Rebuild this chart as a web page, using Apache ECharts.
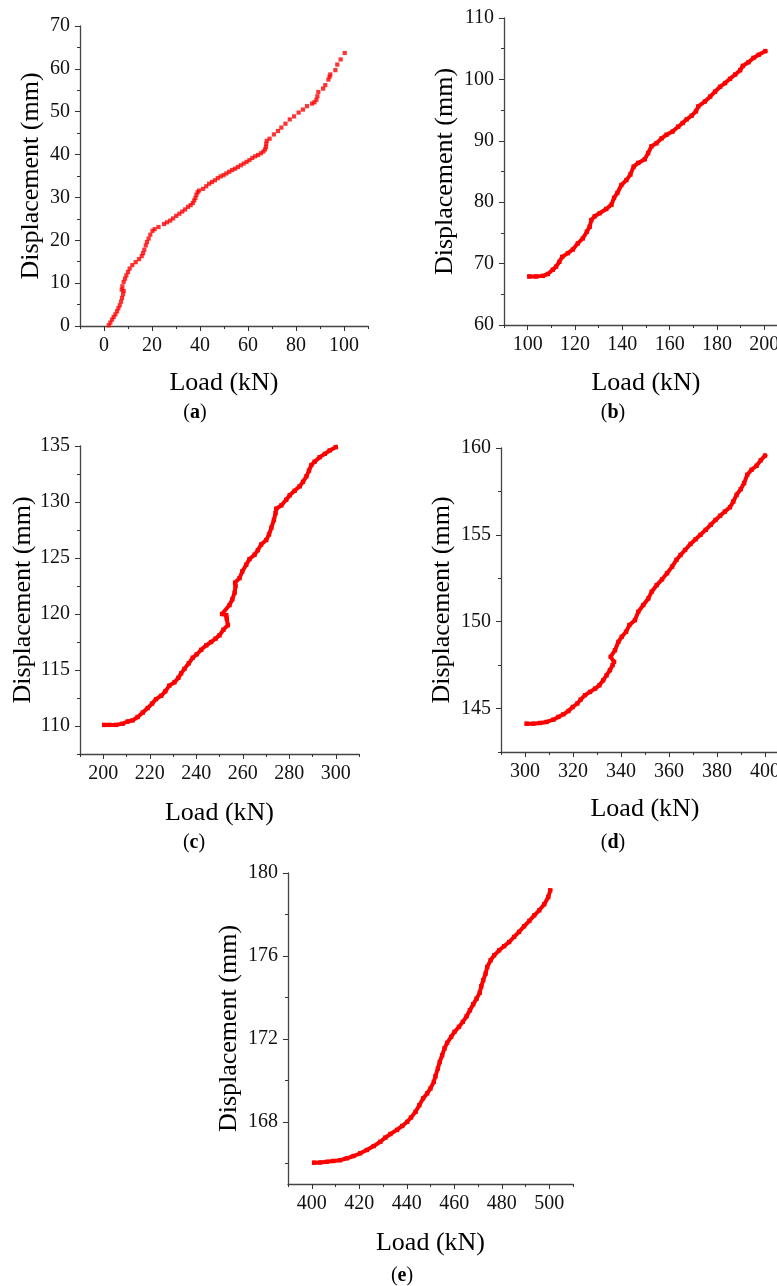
<!DOCTYPE html>
<html>
<head>
<meta charset="utf-8">
<script src="https://cdn.jsdelivr.net/npm/echarts@6/dist/echarts.min.js"></script>
<style>
html, body { margin: 0; padding: 0; background: #fff; }
#chart { width: 777px; height: 1286px; }
</style>
</head>
<body>
<div id="chart"></div>
<script>
// ---- Panel (a): 0–100 kN ----
const loadA = [1.96, 2.65, 3.35, 4.04, 4.74, 5.43, 5.99, 6.54, 7.10, 7.51, 7.93, 8.20, 7.40, 7.65, 8.20, 8.76, 9.30, 10.0, 10.7, 11.8, 13.2, 14.6, 15.7, 16.3, 16.8, 17.4, 17.9, 18.6, 19.3, 20.2, 21.1,
  22.7, 25.0, 26.3, 27.6, 28.8, 30.1, 31.4, 32.6, 33.8, 35.0, 36.1, 37.0, 37.6, 38.1, 38.5, 39.0, 39.6,
  41.3, 42.6, 43.8, 45.0, 46.2, 47.4, 48.6, 49.8, 51.0, 52.2, 53.4, 54.6, 55.8, 57.0, 58.2, 59.4, 60.6, 61.8, 63.0, 64.2, 65.4, 66.4, 67.1, 67.5, 67.6, 67.8,
  69.0, 70.8, 72.5, 73.9, 75.6, 77.4, 79.2, 81.1, 82.9, 84.6, 86.7, 87.7, 88.5, 88.9, 89.3, 91.3, 92.2, 93.5, 94.0, 94.3, 96.4, 97.2, 98.6, 100.3];
const dispA = [0.16, 0.79, 1.49, 2.11, 2.73, 3.43, 4.13, 4.83, 5.68, 6.54, 7.40, 8.17, 8.48, 9.26, 10.3, 11.05, 11.8, 12.6, 13.4, 14.2, 14.9, 15.6, 16.3, 17.0, 17.8, 18.8, 19.6, 20.4, 21.3, 22.2, 22.6,
  23.1, 23.8, 24.2, 24.6, 25.1, 25.7, 26.2, 26.7, 27.2, 27.8, 28.2, 28.7, 29.3, 29.9, 30.6, 31.2, 31.6,
  32.0, 32.6, 33.2, 33.6, 34.0, 34.5, 34.9, 35.2, 35.6, 36.0, 36.4, 36.7, 37.1, 37.5, 37.9, 38.3, 38.7, 39.2, 39.6, 39.9, 40.3, 40.7, 41.2, 41.8, 42.5, 43.2,
  43.7, 44.7, 45.5, 46.3, 47.2, 48.2, 48.9, 49.8, 50.5, 51.3, 51.9, 52.2, 52.8, 53.6, 54.6, 55.4, 56.2, 57.5, 58.2, 58.7, 59.7, 61.0, 62.2, 63.7];

// ---- Panel (b): 100–200 kN ----
const loadB = [100.7, 103.5, 106.4, 108.5, 110.6, 112.0, 113.4, 114.6, 117.0, 119.1, 121.2, 123.3, 125.0, 126.2, 126.9, 128.3, 130.4, 133.2, 135.4, 136.5, 137.9, 139.6, 141.7, 143.4, 144.8, 146.7, 149.5, 150.9, 152.3, 154.4, 156.6, 158.7, 161.2, 163.6, 165.5, 167.2, 169.3, 171.1, 172.1, 174.9, 177.1, 179.2, 181.3, 183.4, 185.5, 187.7, 189.8, 190.9, 193.3, 195.4, 197.6, 200.4];
const dispB = [67.9, 67.9, 68.0, 68.3, 69.0, 69.5, 70.3, 71.1, 71.7, 72.3, 73.3, 74.1, 75.2, 76.0, 77.1, 77.7, 78.2, 78.9, 79.6, 80.7, 81.5, 82.8, 83.6, 84.5, 85.8, 86.4, 87.0, 88.0, 89.1, 89.6, 90.4, 91.0, 91.5, 92.3, 92.9, 93.5, 94.1, 94.8, 95.6, 96.4, 97.2, 98.0, 98.8, 99.4, 100.1, 100.8, 101.5, 102.2, 102.8, 103.5, 104.0, 104.6];

// ---- Panel (c): 200–300 kN ----
const loadC = [200.4, 202.6, 205.5, 208.3, 210.5, 212.6, 214.8, 217.0, 219.1, 221.0, 222.7, 224.9, 226.7, 228.4, 230.6, 232.3, 233.5, 234.9, 236.8, 238.5, 240.2, 242.1, 244.3, 246.4, 248.3, 250.0, 251.7, 253.6, 253.1, 252.9, 251.1, 254.3, 255.5, 256.5, 256.9, 256.7, 258.6, 259.8, 261.5, 262.9, 265.1, 266.5, 267.9, 270.1, 271.3, 272.3, 273.4, 274.1, 274.4, 276.6, 278.7, 280.2, 282.3, 284.5, 285.9, 287.4, 288.5, 289.5, 290.9, 293.1, 295.3, 297.4, 300.0];
const dispC = [110.1, 110.1, 110.1, 110.2, 110.4, 110.5, 110.8, 111.2, 111.6, 112.0, 112.4, 112.7, 113.1, 113.6, 113.9, 114.3, 114.7, 115.1, 115.6, 116.1, 116.4, 116.8, 117.2, 117.5, 117.8, 118.1, 118.6, 119.0, 119.6, 119.9, 120.0, 120.8, 121.3, 121.9, 122.5, 122.8, 123.2, 123.8, 124.4, 124.9, 125.3, 125.7, 126.2, 126.6, 127.1, 127.7, 128.4, 129.0, 129.4, 129.7, 130.2, 130.6, 131.0, 131.4, 131.8, 132.3, 132.8, 133.3, 133.6, 134.0, 134.3, 134.6, 134.9];

// ---- Panel (d): 300–400 kN ----
const loadD = [300.7, 303.5, 306.3, 309.0, 311.8, 313.9, 316.0, 318.1, 319.9, 321.8, 323.2, 325.0, 327.1, 329.2, 331.0, 332.6, 334.0, 335.4, 336.5, 337.1, 335.7, 337.5, 338.9, 340.3, 342.1, 343.5, 345.8, 347.2, 349.3, 351.4, 352.8, 354.9, 357.1, 359.2, 361.3, 363.1, 364.8, 366.7, 369.0, 371.1, 373.1, 375.3, 377.4, 379.4, 381.3, 383.3, 385.4, 386.8, 388.2, 389.9, 391.3, 392.6, 394.4, 396.5, 398.2, 400.0];
const dispD = [144.13, 144.13, 144.17, 144.23, 144.36, 144.52, 144.67, 144.86, 145.09, 145.29, 145.52, 145.77, 145.96, 146.15, 146.34, 146.63, 146.92, 147.21, 147.50, 147.69, 147.98, 148.36, 148.84, 149.13, 149.42, 149.81, 150.09, 150.57, 150.96, 151.34, 151.73, 152.11, 152.44, 152.79, 153.17, 153.56, 153.84, 154.13, 154.48, 154.75, 155.00, 155.29, 155.58, 155.86, 156.10, 156.34, 156.59, 156.92, 157.31, 157.63, 157.98, 158.46, 158.75, 158.98, 159.29, 159.56];

// ---- Panel (e): 400–500 kN ----
const loadE = [401.0, 403.5, 406.3, 409.1, 412.0, 414.8, 417.6, 420.4, 423.2, 426.1, 428.9, 431.0, 433.1, 435.9, 438.1, 440.2, 441.8, 443.7, 445.3, 446.9, 448.6, 450.0, 451.4, 452.1, 453.1, 453.9, 454.9, 455.9, 457.0, 458.7, 460.1, 462.0, 463.6, 465.2, 466.6, 468.0, 469.4, 470.7, 471.4, 472.2, 473.2, 473.9, 475.3, 476.8, 478.9, 481.0, 483.1, 485.2, 487.3, 489.4, 491.6, 493.7, 495.8, 497.9, 499.6, 500.4];
const dispE = [166.03, 166.04, 166.07, 166.11, 166.15, 166.24, 166.35, 166.48, 166.64, 166.83, 167.04, 167.24, 167.41, 167.61, 167.80, 168.00, 168.21, 168.48, 168.80, 169.13, 169.37, 169.61, 169.93, 170.20, 170.57, 170.89, 171.21, 171.54, 171.81, 172.10, 172.34, 172.58, 172.82, 173.09, 173.38, 173.67, 173.94, 174.22, 174.54, 174.83, 175.15, 175.47, 175.79, 176.03, 176.27, 176.47, 176.67, 176.92, 177.16, 177.43, 177.69, 177.96, 178.20, 178.49, 178.84, 179.16];

// ---- Tick labels (major) and minor tick positions ----
const xTicksA = [0, 20, 40, 60, 80, 100],      xMinorA = [-10, 10, 30, 50, 70, 90, 110];
const yTicksA = [0, 10, 20, 30, 40, 50, 60, 70], yMinorA = [5, 15, 25, 35, 45, 55, 65];
const xTicksB = [100, 120, 140, 160, 180, 200], xMinorB = [90, 110, 130, 150, 170, 190, 210];
const yTicksB = [60, 70, 80, 90, 100, 110],     yMinorB = [65, 75, 85, 95, 105];
const xTicksC = [200, 220, 240, 260, 280, 300], xMinorC = [190, 210, 230, 250, 270, 290, 310];
const yTicksC = [110, 115, 120, 125, 130, 135], yMinorC = [107.5, 112.5, 117.5, 122.5, 127.5, 132.5];
const xTicksD = [300, 320, 340, 360, 380, 400], xMinorD = [290, 310, 330, 350, 370, 390, 410];
const yTicksD = [145, 150, 155, 160],           yMinorD = [142.5, 147.5, 152.5, 157.5];
const xTicksE = [400, 420, 440, 460, 480, 500], xMinorE = [390, 410, 430, 450, 470, 490, 510];
const yTicksE = [168, 172, 176, 180],           yMinorE = [166, 170, 174, 178];

const xName = 'Load (kN)';
const yName = 'Displacement (mm)';
const panelTags = ['a', 'b', 'c', 'd', 'e'];

const FONT = '"Liberation Serif", "Times New Roman", serif';
const RED = '#ff0000';
const AXIS_COLOR = '#444';

// Layout of each panel: grid box, axis ranges, name gaps, caption position
const panels = [
  { load: loadA, disp: dispA, xt: xTicksA, xm: xMinorA, yt: yTicksA, ym: yMinorA,
    grid: { left: 80, top: 26, width: 288, height: 300 }, xr: [-10, 110], yr: [0, 70],
    xGap: 44, yGap: 36, cap: [195, 413], dots: true },
  { load: loadB, disp: dispB, xt: xTicksB, xm: xMinorB, yt: yTicksB, ym: yMinorB,
    grid: { left: 504, top: 18, width: 284, height: 307 }, xr: [90, 210], yr: [60, 110],
    xGap: 45.5, yGap: 46, cap: [613, 413] },
  { load: loadC, disp: dispC, xt: xTicksC, xm: xMinorC, yt: yTicksC, ym: yMinorC,
    grid: { left: 80, top: 446, width: 279, height: 308 }, xr: [190, 310], yr: [107.5, 135],
    xGap: 46, yGap: 43.5, cap: [194, 843] },
  { load: loadD, disp: dispD, xt: xTicksD, xm: xMinorD, yt: yTicksD, ym: yMinorD,
    grid: { left: 501, top: 448, width: 288, height: 304 }, xr: [290, 410], yr: [142.5, 160],
    xGap: 44.5, yGap: 46, cap: [613, 843] },
  { load: loadE, disp: dispE, xt: xTicksE, xm: xMinorE, yt: yTicksE, ym: yMinorE,
    grid: { left: 288, top: 873, width: 285, height: 311 }, xr: [390, 510], yr: [165, 180],
    xGap: 46.5, yGap: 45.5, cap: [402, 1276] }
];

function majorAxis(pos, gridIndex, range, ticks, name, gap) {
  return {
    type: 'value', gridIndex, position: pos, min: range[0], max: range[1],
    name, nameLocation: 'middle', nameGap: gap,
    nameTextStyle: { fontFamily: FONT, fontSize: 26, color: '#000' },
    axisLine: { show: true, onZero: false, lineStyle: { color: AXIS_COLOR, width: 1.3 } },
    axisTick: { show: true, inside: false, length: 5, customValues: ticks, lineStyle: { color: '#333', width: 1 } },
    axisLabel: { show: true, margin: 10, customValues: ticks, fontFamily: FONT, fontSize: 20, color: '#111' },
    splitLine: { show: false }
  };
}

function minorAxis(pos, gridIndex, range, ticks) {
  return {
    type: 'value', gridIndex, position: pos, min: range[0], max: range[1],
    axisLine: { show: false, onZero: false },
    axisTick: { show: true, inside: false, length: 3, customValues: ticks, lineStyle: { color: '#333', width: 1 } },
    axisLabel: { show: false },
    splitLine: { show: false }
  };
}

const grid = [], xAxis = [], yAxis = [], series = [], graphic = [];

panels.forEach((p, i) => {
  grid.push(Object.assign({ outerBoundsMode: 'none', containLabel: false }, p.grid));
  xAxis.push(majorAxis('bottom', i, p.xr, p.xt, xName, p.xGap));
  xAxis.push(minorAxis('bottom', i, p.xr, p.xm));
  yAxis.push(majorAxis('left', i, p.yr, p.yt, yName, p.yGap));
  yAxis.push(minorAxis('left', i, p.yr, p.ym));

  const data = p.load.map((x, k) => [x, p.disp[k]]);
  if (p.dots) {
    series.push({
      type: 'scatter', xAxisIndex: 2 * i, yAxisIndex: 2 * i,
      symbol: 'rect', symbolSize: 4.2,
      itemStyle: { color: RED }, data, silent: true
    });
  } else {
    series.push({
      type: 'line', xAxisIndex: 2 * i, yAxisIndex: 2 * i,
      symbol: 'rect', symbolSize: 4.4, showAllSymbol: true,
      lineStyle: { color: RED, width: 4, join: 'round', cap: 'square' },
      itemStyle: { color: RED }, data, silent: true
    });
  }

  graphic.push({
    type: 'text', x: p.cap[0], y: p.cap[1],
    style: {
      text: '{p|(}{b|' + panelTags[i] + '}{p|)}',
      align: 'center', verticalAlign: 'middle',
      rich: {
        p: { fontFamily: FONT, fontSize: 20, fill: '#000' },
        b: { fontFamily: FONT, fontSize: 20, fontWeight: 'bold', fill: '#000' }
      }
    }
  });
});

const chart = echarts.init(document.getElementById('chart'), null, { renderer: 'canvas' });
chart.setOption({
  animation: false,
  backgroundColor: '#fff',
  grid, xAxis, yAxis, series, graphic
});
</script>
</body>
</html>
